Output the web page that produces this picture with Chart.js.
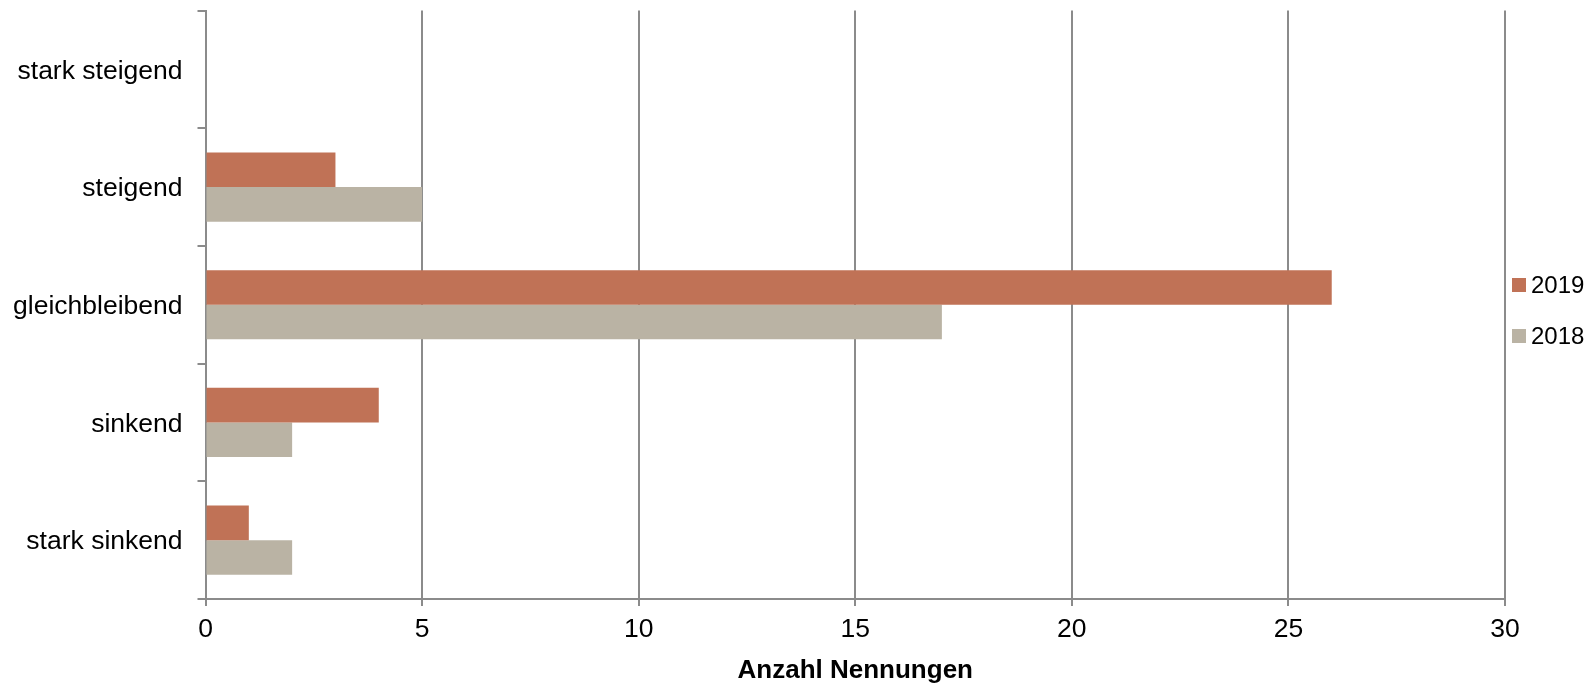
<!DOCTYPE html>
<html lang="de">
<head>
<meta charset="utf-8">
<title>Anzahl Nennungen</title>
<script src="https://cdn.jsdelivr.net/npm/chart.js@4/dist/chart.umd.min.js"></script>
<style>
  html, body { margin: 0; padding: 0; background: #ffffff; }
  #wrap { width: 1592px; height: 684px; }
</style>
</head>
<body>
<div id="wrap"><canvas id="chart" width="1592" height="684"></canvas></div>
<script>
// Kategorien (von oben nach unten) und Nennungen je Jahr
const categories = ['stark steigend', 'steigend', 'gleichbleibend', 'sinkend', 'stark sinkend'];
const values2019 = [0, 3, 26, 4, 1];
const values2018 = [0, 5, 17, 2, 2];
const seriesLabels = ['2019', '2018'];
const xTicks = [0, 5, 10, 15, 20, 25, 30];

const COLOR_2019 = '#c07256';
const COLOR_2018 = '#bab3a4';
const AXIS_GREY = '#8b8b8b';
const FONT = "'Liberation Sans', Arial, sans-serif";

// Legende rechts neben dem Diagramm
const sideLegend = {
  id: 'sideLegend',
  afterDraw(chart) {
    const ctx = chart.ctx;
    const x = 1512;
    const ys = [285, 336];
    ctx.save();
    ctx.font = '24px ' + FONT;
    ctx.textBaseline = 'middle';
    ctx.textAlign = 'left';
    chart.data.datasets.forEach((ds, i) => {
      ctx.fillStyle = ds.backgroundColor;
      ctx.fillRect(x, ys[i] - 7, 14, 14);
      ctx.fillStyle = '#000000';
      ctx.fillText(ds.label, x + 19, ys[i] + 1);
    });
    ctx.restore();
  }
};

new Chart(document.getElementById('chart'), {
  type: 'bar',
  data: {
    labels: categories,
    datasets: [
      { label: seriesLabels[0], data: values2019, backgroundColor: COLOR_2019 },
      { label: seriesLabels[1], data: values2018, backgroundColor: COLOR_2018 }
    ]
  },
  options: {
    indexAxis: 'y',
    responsive: false,
    devicePixelRatio: 1,
    animation: false,
    categoryPercentage: 0.588,
    barPercentage: 1.0,
    layout: { padding: { top: 10.5, right: 87, bottom: 0, left: 0 } },
    plugins: {
      legend: { display: false },
      tooltip: { enabled: false }
    },
    scales: {
      x: {
        type: 'linear',
        min: 0,
        max: 30,
        afterBuildTicks(scale) {
          scale.ticks = xTicks.map(v => ({ value: v }));
        },
        afterFit(scale) {
          scale.height = 85;
          scale.paddingLeft = 0;
          scale.paddingRight = 0;
        },
        grid: {
          color: AXIS_GREY,
          lineWidth: 2,
          drawTicks: true,
          tickLength: 7
        },
        border: { display: true, color: AXIS_GREY, width: 2 },
        ticks: {
          color: '#000000',
          font: { family: FONT, size: 26.5 },
          padding: 8
        },
        title: {
          display: true,
          text: 'Anzahl Nennungen',
          color: '#000000',
          font: { family: FONT, size: 26, weight: 'bold', lineHeight: 1.0 },
          padding: { top: 0, bottom: 0 }
        }
      },
      y: {
        type: 'category',
        afterFit(scale) {
          scale.width = 205.5;
          scale.paddingTop = 0;
          scale.paddingBottom = 0;
        },
        grid: {
          offset: true,
          drawOnChartArea: false,
          drawTicks: true,
          tickLength: 8,
          color: AXIS_GREY,
          lineWidth: 2
        },
        border: { display: true, color: AXIS_GREY, width: 2 },
        ticks: {
          color: '#000000',
          font: { family: FONT, size: 26.5 },
          padding: 15,
          labelOffset: 2
        }
      }
    }
  },
  plugins: [sideLegend]
});
</script>
</body>
</html>
